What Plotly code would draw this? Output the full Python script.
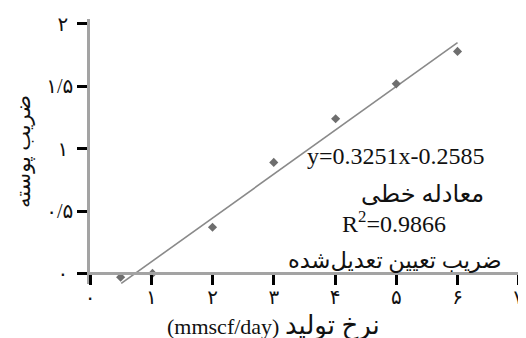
import plotly.graph_objects as go

# measured points (production rate vs skin factor)
rate = [0.5, 1.02, 2.0, 3.0, 4.01, 5.0, 6.0]
skin = [-0.03, 0.0, 0.37, 0.89, 1.24, 1.52, 1.78]

# fitted line as drawn (end points)
fit_x = [0.51, 6.0]
fit_y = [-0.08, 1.85]

x_ticks = [0, 1, 2, 3, 4, 5, 6, 7]
x_labels = ['۰', '۱', '۲', '۳', '۴', '۵', '۶', '۷']
y_ticks = [0, 0.5, 1, 1.5, 2]
y_labels = ['۰', '۰/۵', '۱', '۱/۵', '۲']

equation = 'y=0.3251x-0.2585'
equation_name = 'معادله خطی'
r_squared = 'R<sup>2</sup>=0.9866'
r_squared_name = 'ضریب تعیین تعدیل\u200cشده'

x_title = '(mmscf/day) <span style="font-size:26px">نرخ تولید</span>'
y_title = 'ضریب پوسته'

y_low, y_high = -0.085, 2.04
zero_pos = -y_low / (y_high - y_low)   # where y=0 sits in the plot height

serif = 'Liberation Serif, DejaVu Sans'
axis_grey = '#a3a3a3'

# single-digit labels look centred under the wider ones in the original
y_text = [t if len(t) > 1 else t + '\u00a0' for t in y_labels]

fig = go.Figure()
fig.add_trace(go.Scatter(
    x=fit_x, y=fit_y, mode='lines',
    line=dict(color='#8a8a8a', width=1.6),
    hoverinfo='skip',
))
fig.add_trace(go.Scatter(
    x=rate, y=skin, mode='markers',
    marker=dict(symbol='diamond', size=7, color='#6e6e6e'),
    cliponaxis=False,
))

notes = [
    (equation, 5.0, 0.94, 24),
    (equation_name, 5.43, 0.64, 24),
    (r_squared, 4.96, 0.41, 24),
    (r_squared_name, 4.98, 0.10, 22.5),
]
for txt, nx, ny, fs in notes:
    fig.add_annotation(
        x=nx, y=ny, text=txt, showarrow=False,
        font=dict(family=serif, size=fs, color='#111'),
    )

# x axis title, sits a bit left of the axis centre
fig.add_annotation(
    xref='paper', yref='paper', x=0.4256, y=-0.16,
    xanchor='center', yanchor='middle',
    text=x_title, showarrow=False,
    font=dict(family=serif, size=22, color='#111'),
)

tick_style = dict(ticks='outside', ticklen=10, tickwidth=2.5, tickcolor='#000')

# the page body keeps its default 8px margin, so the figure is 8px smaller
fig.update_layout(
    width=518, height=330,
    margin=dict(l=82, r=6, t=11, b=54),
    plot_bgcolor='white', paper_bgcolor='white',
    showlegend=False,
    font=dict(family=serif, color='#111'),
    xaxis=dict(
        range=[0, 7.02], anchor='free', position=zero_pos, automargin=False,
        showgrid=False, zeroline=False,
        showline=True, linecolor=axis_grey, linewidth=2.5,
        tickvals=x_ticks, ticktext=x_labels, ticklabelstandoff=-5,
        tickfont=dict(size=20), **tick_style,
    ),
    yaxis=dict(
        range=[y_low, y_high], automargin=False,
        showgrid=False, zeroline=False,
        showline=True, linecolor=axis_grey, linewidth=2.5,
        tickvals=y_ticks, ticktext=y_text,
        tickfont=dict(size=20), **tick_style,
        title=dict(text=y_title, font=dict(size=21), standoff=10),
    ),
)

fig.write_html('out.html')
